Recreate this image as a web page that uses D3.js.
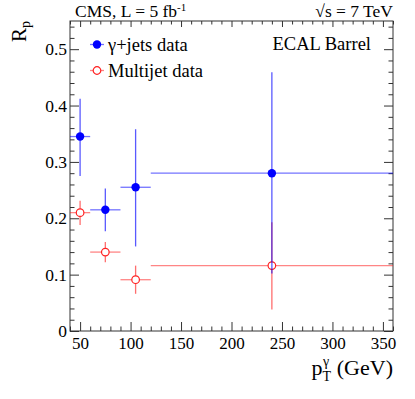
<!DOCTYPE html>
<html>
<head>
<meta charset="utf-8">
<script src="https://cdn.jsdelivr.net/npm/d3@7"></script>
<style>
  body { margin: 0; background: #fff; }
  svg text { font-family: "Liberation Serif", serif; fill: #000; }
</style>
</head>
<body>
<div id="container"></div>
<script>
// bins in photon pT (GeV)
const binLow = [40, 60, 90, 120];
const binHigh = [60, 90, 120, 360];
const binCenter = [50, 75, 105, 240];

// gamma+jets data
const gjetValue = [0.345, 0.215, 0.255, 0.280];
const gjetLow = [0.275, 0.177, 0.150, 0.102];
const gjetHigh = [0.412, 0.253, 0.358, 0.459];

// multijet data
const multiValue = [0.210, 0.140, 0.091, 0.116];
const multiLow = [0.188, 0.122, 0.066, 0.038];
const multiHigh = [0.231, 0.158, 0.116, 0.193];

const xMajor = [50, 100, 150, 200, 250, 300, 350];
const yMajor = [0, 0.1, 0.2, 0.3, 0.4, 0.5];

const width = 415, height = 399;
const frame = { left: 70, right: 393, top: 21, bottom: 331 };
const FONT = 'Liberation Serif';

const svg = d3.select('#container')
    .append('svg')
    .attr('width', width)
    .attr('height', height);

const x = d3.scaleLinear().domain([40, 360]).range([frame.left, frame.right]);
const y = d3.scaleLinear().domain([0, 0.55]).range([frame.bottom, frame.top]);

const xMinor = d3.range(40, 361, 10).filter(v => v % 50 !== 0);
const yMinor = d3.range(0, 0.551, 0.02).filter(v => Math.abs(v * 10 - Math.round(v * 10)) > 1e-6);

const tickStyle = g => {
    g.attr('font-family', FONT);
    g.select('.domain').remove();
    g.selectAll('.tick line').attr('stroke', '#333').attr('stroke-width', 1);
};

// bottom axis
svg.append('g')
    .attr('transform', `translate(0,${frame.bottom})`)
    .call(d3.axisBottom(x).tickValues(xMajor).tickSize(-9).tickFormat(d3.format('d')))
    .call(tickStyle)
    .call(g => g.selectAll('text').attr('font-size', 17).attr('dy', '0.75em').attr('y', 5));
svg.append('g')
    .attr('transform', `translate(0,${frame.bottom})`)
    .call(d3.axisBottom(x).tickValues(xMinor).tickSize(-4.5).tickFormat(''))
    .call(tickStyle);

// top axis (ticks only)
svg.append('g')
    .attr('transform', `translate(0,${frame.top})`)
    .call(d3.axisTop(x).tickValues(xMajor).tickSize(-6).tickFormat(''))
    .call(tickStyle);
svg.append('g')
    .attr('transform', `translate(0,${frame.top})`)
    .call(d3.axisTop(x).tickValues(xMinor).tickSize(-3.5).tickFormat(''))
    .call(tickStyle);

// left axis
svg.append('g')
    .attr('transform', `translate(${frame.left},0)`)
    .call(d3.axisLeft(y).tickValues(yMajor).tickSize(-9).tickPadding(3)
        .tickFormat(d => d === 0 ? '0' : d3.format('.1f')(d)))
    .call(tickStyle)
    .call(g => g.selectAll('text').attr('font-size', 17.5));
svg.append('g')
    .attr('transform', `translate(${frame.left},0)`)
    .call(d3.axisLeft(y).tickValues(yMinor).tickSize(-4.5).tickFormat(''))
    .call(tickStyle);

// right axis (ticks only)
svg.append('g')
    .attr('transform', `translate(${frame.right},0)`)
    .call(d3.axisRight(y).tickValues(yMajor).tickSize(-9).tickFormat(''))
    .call(tickStyle);
svg.append('g')
    .attr('transform', `translate(${frame.right},0)`)
    .call(d3.axisRight(y).tickValues(yMinor).tickSize(-4.5).tickFormat(''))
    .call(tickStyle);

// frame
svg.append('rect')
    .attr('x', frame.left).attr('y', frame.top)
    .attr('width', frame.right - frame.left).attr('height', frame.bottom - frame.top)
    .attr('fill', 'none').attr('stroke', '#333').attr('stroke-width', 1);

const drawSeries = (vals, lows, highs, color, filled) => {
    const pts = vals.map((v, i) => ({ v, lo: lows[i], hi: highs[i], x0: binLow[i], x1: binHigh[i], xc: binCenter[i] }));
    const g = svg.append('g');
    g.selectAll('line.h').data(pts).enter().append('line')
        .attr('x1', d => x(d.x0)).attr('x2', d => x(d.x1))
        .attr('y1', d => y(d.v)).attr('y2', d => y(d.v))
        .attr('stroke', color).attr('stroke-opacity', 0.55).attr('stroke-width', 1.3);
    g.selectAll('line.v').data(pts).enter().append('line')
        .attr('x1', d => x(d.xc)).attr('x2', d => x(d.xc))
        .attr('y1', d => y(d.lo)).attr('y2', d => y(d.hi))
        .attr('stroke', color).attr('stroke-opacity', 0.65).attr('stroke-width', 1.3);
    g.selectAll('circle').data(pts).enter().append('circle')
        .attr('cx', d => x(d.xc)).attr('cy', d => y(d.v))
        .attr('r', filled ? 4.2 : 3.8)
        .attr('fill', filled ? color : '#fff')
        .attr('stroke', color).attr('stroke-width', filled ? 0 : 1.2);
};

drawSeries(multiValue, multiLow, multiHigh, '#ff2020', false);
drawSeries(gjetValue, gjetLow, gjetHigh, '#0000ff', true);

// legend
const legend = [
    { label: 'γ+jets data', color: '#0000ff', filled: true, yPos: 44.5 },
    { label: 'Multijet data', color: '#ff2020', filled: false, yPos: 70.5 }
];
const lg = svg.append('g').selectAll('g').data(legend).enter().append('g')
    .attr('transform', d => `translate(97,${d.yPos})`);
lg.append('line').attr('x1', -7).attr('x2', 7).attr('y1', 0).attr('y2', 0)
    .attr('stroke', d => d.color).attr('stroke-opacity', 0.55).attr('stroke-width', 1.3);
lg.append('circle').attr('r', d => d.filled ? 4.2 : 3.8)
    .attr('fill', d => d.filled ? d.color : '#fff')
    .attr('stroke', d => d.color).attr('stroke-width', d => d.filled ? 0 : 1.2);
lg.append('text').attr('x', 11).attr('y', 6).attr('font-family', FONT)
    .attr('font-size', 18.5).text(d => d.label);

svg.append('text').attr('x', 371).attr('y', 50).attr('text-anchor', 'end')
    .attr('font-family', FONT).attr('font-size', 18.5).text('ECAL Barrel');

// header
const head = svg.append('text').attr('x', 75).attr('y', 17)
    .attr('font-family', FONT).attr('font-size', 17.5);
head.append('tspan').text('CMS, L = 5 fb');
head.append('tspan').attr('dy', -6).attr('font-size', 11).text('-1');

svg.append('text').attr('x', 393).attr('y', 17).attr('text-anchor', 'end')
    .attr('font-family', FONT).attr('font-size', 17.5).text('√s = 7 TeV');

// axis titles
const xt = svg.append('text').attr('x', 393).attr('y', 375).attr('text-anchor', 'end')
    .attr('font-family', FONT).attr('font-size', 22);
xt.append('tspan').text('p');
xt.append('tspan').attr('font-size', 14).attr('dy', 6).text('T');
xt.append('tspan').attr('font-size', 14).attr('dy', -15).attr('dx', -8).text('γ');
xt.append('tspan').attr('dy', 9).attr('dx', 2).text('\u00a0(GeV)');

const yt = svg.append('text').attr('transform', 'translate(26,21) rotate(-90)')
    .attr('text-anchor', 'end').attr('font-family', FONT).attr('font-size', 21);
yt.append('tspan').text('R');
yt.append('tspan').attr('font-size', 14).attr('dy', 4).text('p');
</script>
</body>
</html>
